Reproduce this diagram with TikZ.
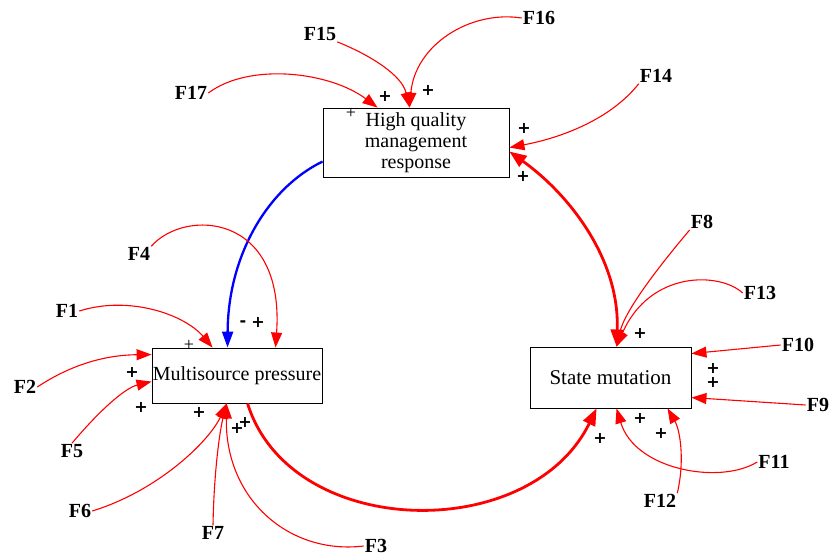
\documentclass[tikz,border=0pt]{standalone}
\usepackage{fontspec}
\setmainfont{Liberation Serif}
\newfontfamily\signfont{DejaVu Sans}
\usetikzlibrary{arrows.meta,calc}
\begin{document}
\begin{tikzpicture}[x=1pt,y=-1pt,
  box/.style={draw=black,line width=0.9pt,fill=white,inner sep=0pt,align=center,
    font=\fontsize{20}{21}\selectfont},
  flabel/.style={font=\fontsize{20}{20}\selectfont\bfseries,inner sep=1pt},
  sign/.style={font=\signfont\fontsize{16}{16}\selectfont\bfseries,inner sep=0pt},
  thinsign/.style={font=\fontsize{18}{18}\selectfont,inner sep=0pt},
  influence/.style={draw=red,line width=1.1pt,-{Triangle[length=15pt,width=11pt]}},
  loopline/.style={draw=red,line width=2.8pt},
  looptip/.tip={Triangle[length=17pt,width=13pt]},
  negline/.style={draw=blue,line width=2.3pt,-{Triangle[length=16pt,width=11pt]}},
]
\useasboundingbox (0,0) rectangle (831,557);
\fill[white] (0,0) rectangle (831,557);

% the three variables of the loop
\node[box,minimum width=186pt,minimum height=69pt] (hq) at (416,142.5)
  {High quality\\management\\response};
\node[box,minimum width=170pt,minimum height=55pt] (mp) at (237,375.5)
  {Multisource pressure};
\node[box,minimum width=161pt,minimum height=61pt,font=\fontsize{21}{21}\selectfont] (sm)
  at (610.5,377.5) {State mutation};

% factor labels
\node[flabel] (f1)  at (67,311)  {F1};
\node[flabel] (f2)  at (25,387)  {F2};
\node[flabel] (f3)  at (376,546) {F3};
\node[flabel] (f4)  at (139,254) {F4};
\node[flabel] (f5)  at (72,451)  {F5};
\node[flabel] (f6)  at (80,511)  {F6};
\node[flabel] (f7)  at (213,533) {F7};
\node[flabel] (f8)  at (702,222) {F8};
\node[flabel] (f9)  at (818,405) {F9};
\node[flabel] (f10) at (798,345) {F10};
\node[flabel] (f11) at (774,462) {F11};
\node[flabel] (f12) at (660,501) {F12};
\node[flabel] (f13) at (760,293) {F13};
\node[flabel] (f14) at (656,76)  {F14};
\node[flabel] (f15) at (320,34)  {F15};
\node[flabel] (f16) at (539,18)  {F16};
\node[flabel] (f17) at (191,93)  {F17};

% attachment points on the boxes
\coordinate (hqTop)   at ($(hq.north west)+(87,0)$);
\coordinate (hqTopL)  at ($(hq.north west)+(55,0)$);
\coordinate (hqR1)    at ($(hq.north east)+(0,40)$);
\coordinate (hqR2)    at ($(hq.north east)+(0,44)$);
\coordinate (hqL)     at ($(hq.north west)+(0,54)$);
\coordinate (mpTopB)  at ($(mp.north west)+(76,0)$);
\coordinate (mpTop1)  at ($(mp.north west)+(61,0)$);
\coordinate (mpTop4)  at ($(mp.north west)+(124,0)$);
\coordinate (mpL1)    at ($(mp.north west)+(0,7)$);
\coordinate (mpL2)    at ($(mp.north west)+(0,34)$);
\coordinate (mpBot)   at ($(mp.south west)+(75,0)$);
\coordinate (mpBotL)  at ($(mp.south west)+(96,0)$);
\coordinate (smTop)   at ($(sm.north west)+(87,0)$);
\coordinate (smR1)    at ($(sm.north east)+(0,7)$);
\coordinate (smR2)    at ($(sm.north east)+(0,51)$);
\coordinate (smBotL)  at ($(sm.south west)+(67,0)$);
\coordinate (smBot11) at ($(sm.south west)+(87,0)$);
\coordinate (smBot12) at ($(sm.south west)+(138,0)$);

% main loop
\draw[negline] (hqL) .. controls (268,188) and (228,255) .. (mpTopB);
\draw[loopline,-looptip] (mpBotL) .. controls (290,540) and (530,545) .. (smBotL);
\draw[loopline,looptip-looptip] (hqR2) .. controls (570,195) and (620,260) .. (smTop);

% factors acting on the high quality management response
\draw[influence] (f15.south east) .. controls (370,55) and (402,75) .. (hqTop);
\draw[influence] (f16.west) .. controls (470,10) and (415,45) .. (hqTop);
\draw[influence] (f17.east) .. controls (250,62) and (330,72) .. (hqTopL);
\draw[influence] (f14.south west) .. controls (610,120) and (560,138) .. (hqR1);

% factors acting on the multisource pressure
\draw[influence] (f4.north east) .. controls (185,208) and (285,213) .. (mpTop4);
\draw[influence] (f1.east) .. controls (130,295) and (185,315) .. (mpTop1);
\draw[influence] (f2.east) .. controls (75,362) and (110,355) .. (mpL1);
\draw[influence] (f5.north) .. controls (100,410) and (125,388) .. (mpL2);
\draw[influence] (f6.east) .. controls (160,490) and (210,440) .. (mpBot);
\draw[influence] (f7.north) .. controls (214,470) and (220,430) .. (mpBot);
\draw[influence] (f3.west) .. controls (290,555) and (225,500) .. (mpBot);

% factors acting on the state mutation
\draw[influence] (f8.south west) .. controls (660,265) and (625,310) .. (smTop);
\draw[influence] (f13.west) .. controls (720,272) and (650,270) .. (smTop);
\draw[influence] (f10.west) -- (smR1);
\draw[influence] (f9.west) -- (smR2);
\draw[influence] (f11.west) .. controls (720,485) and (635,470) .. (smBot11);
\draw[influence] (f12.north east) .. controls (685,460) and (680,430) .. (smBot12);

% polarity signs
\node[sign] (s1)  at (385,96)  {+};
\node[sign] (s2)  at (428,90)  {+};
\node[thinsign] (s3) at (351,113) {+};
\node[sign] (s4)  at (524,128) {+};
\node[sign] (s5)  at (523,176) {+};
\node[sign] (s6)  at (243,324) {-};
\node[sign] (s7)  at (258,322) {+};
\node[thinsign] (s8) at (189,345) {+};
\node[sign] (s9)  at (132,372) {+};
\node[sign] (s10) at (141,407) {+};
\node[sign] (s11) at (199,412) {+};
\node[sign] (s12) at (237,428) {+};
\node[sign] (s13) at (245,422) {+};
\node[sign] (s14) at (640,333) {+};
\node[sign] (s15) at (713,368) {+};
\node[sign] (s16) at (713,382) {+};
\node[sign] (s17) at (640,418) {+};
\node[sign] (s18) at (661,433) {+};
\node[sign] (s19) at (600,438) {+};
\end{tikzpicture}
\end{document}
